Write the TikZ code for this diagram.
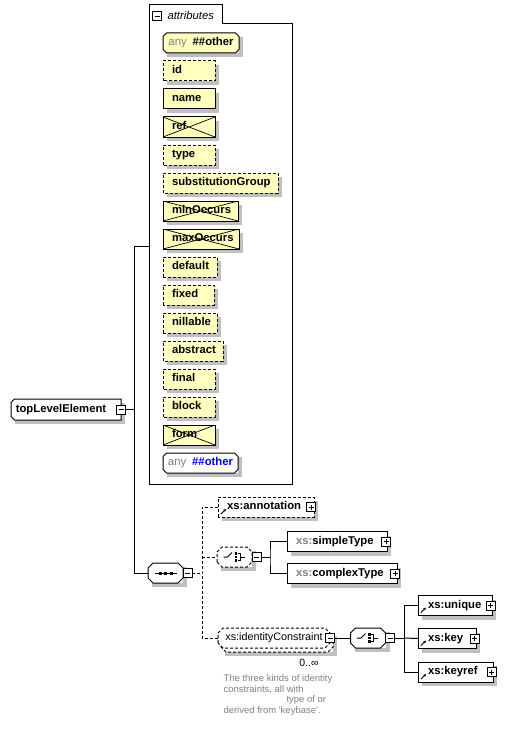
\documentclass[tikz,border=0pt]{standalone}
\usepackage{fontspec}
\setmainfont{Liberation Sans}
\usetikzlibrary{positioning}
\usetikzlibrary{calc}
\usetikzlibrary{arrows.meta}
\usetikzlibrary{backgrounds}

\definecolor{attrfill}{RGB}{255,255,192}
\definecolor{xsgray}{RGB}{128,128,128}
\definecolor{anyblue}{RGB}{0,0,255}
\definecolor{shadowgray}{RGB}{192,192,192}
\newcommand{\dfont}{\fontsize{11.3}{13.5}\selectfont}
\newcommand{\xs}{\textcolor{xsgray}{xs:}}

% box with cut corners
\makeatletter
\newdimen\cbxa \newdimen\cbya \newdimen\cbxb \newdimen\cbyb
\newdimen\cbcl \newdimen\cbcr
\pgfkeys{/pgf/chamf left/.initial=0pt,/pgf/chamf right/.initial=0pt}
\def\cbcorners{%
  \southwest \global\cbxa=\pgf@x \global\cbya=\pgf@y
  \northeast \global\cbxb=\pgf@x \global\cbyb=\pgf@y
  \pgfmathsetlength\cbcl{\pgfkeysvalueof{/pgf/chamf left}}%
  \pgfmathsetlength\cbcr{\pgfkeysvalueof{/pgf/chamf right}}}
\def\cbpath{%
  \pgfpathmoveto{\pgfqpoint{\cbxa}{\dimexpr\cbya+\cbcl\relax}}%
  \pgfpathlineto{\pgfqpoint{\cbxa}{\dimexpr\cbyb-\cbcl\relax}}%
  \pgfpathlineto{\pgfqpoint{\dimexpr\cbxa+\cbcl\relax}{\cbyb}}%
  \pgfpathlineto{\pgfqpoint{\dimexpr\cbxb-\cbcr\relax}{\cbyb}}%
  \pgfpathlineto{\pgfqpoint{\cbxb}{\dimexpr\cbyb-\cbcr\relax}}%
  \pgfpathlineto{\pgfqpoint{\cbxb}{\dimexpr\cbya+\cbcr\relax}}%
  \pgfpathlineto{\pgfqpoint{\dimexpr\cbxb-\cbcr\relax}{\cbya}}%
  \pgfpathlineto{\pgfqpoint{\dimexpr\cbxa+\cbcl\relax}{\cbya}}%
  \pgfpathclose}
\pgfdeclareshape{xbox}{%
  \inheritsavedanchors[from=rectangle]%
  \inheritanchorborder[from=rectangle]%
  \inheritanchor[from=rectangle]{center}%
  \inheritanchor[from=rectangle]{text}%
  \inheritanchor[from=rectangle]{north}%
  \inheritanchor[from=rectangle]{south}%
  \inheritanchor[from=rectangle]{east}%
  \inheritanchor[from=rectangle]{west}%
  \inheritanchor[from=rectangle]{north west}%
  \inheritanchor[from=rectangle]{north east}%
  \inheritanchor[from=rectangle]{south west}%
  \inheritanchor[from=rectangle]{south east}%
  \inheritanchor[from=rectangle]{base}%
  \inheritanchor[from=rectangle]{mid}%
  \backgroundpath{\cbcorners\cbpath}%
}
\makeatother

\begin{document}
\begin{tikzpicture}[x=1pt,y=-1pt,line width=1pt,
		box/.style={shape=xbox,draw,inner sep=0pt,outer sep=0pt,minimum height=20pt,text height=8pt,text depth=2.5pt,align=left,font=\dfont\bfseries},
		attr/.style={box,fill=attrfill,text width=#1}, attr/.default=52pt,
		elem/.style={box,fill=white,text width=#1},
		cham/.style={chamf left=#1,chamf right=#1}, cham/.default=3.5pt,
		comp/.style={shape=xbox,draw,fill=white,cham=5pt,minimum width=35pt,minimum height=20pt,inner sep=0pt,outer sep=0pt},
		opt/.style={dash pattern=on 3pt off 2pt},
		nxt/.style={below=8pt of #1.south west,anchor=north west},
		xed/.style={path picture={\draw[line width=.7pt] (path picture bounding box.north west) -- (path picture bounding box.south east) (path picture bounding box.south west) -- (path picture bounding box.north east);}},
		pmbox/.style={draw,fill=white,minimum size=9pt,inner sep=0pt,outer sep=0pt,line width=.8pt},
		pm/.style={pmbox,path picture={\draw[line width=.8pt] ([xshift=-2.5pt]path picture bounding box.center) -- ([xshift=2.5pt]path picture bounding box.center);}},
		pp/.style={pmbox,path picture={\draw[line width=.8pt] ([xshift=-2.5pt]path picture bounding box.center) -- ([xshift=2.5pt]path picture bounding box.center) ([yshift=-2.5pt]path picture bounding box.center) -- ([yshift=2.5pt]path picture bounding box.center);}},
		shline/.style={draw=shadowgray,line width=4pt,line join=miter,line cap=butt},
		refarr/.style={-{Stealth[length=3pt,width=3pt]},line width=1pt}]
		\useasboundingbox (0,0) rectangle (508,733);
		% attributes group
		\draw (149,484) |- (222,5) |- (292,24) -- (292,484) -- cycle;
		\node[pm] (attrm) at (157,16) {};
		\node[anchor=west,inner sep=0pt,font=\dfont\itshape] (attrlbl) at (167,15.5) {attributes};
		\coordinate (attrin) at (149,246);
		\node[box,cham,fill=attrfill,minimum width=76pt,anchor=west] (anyA) at (163,43) {\textcolor{xsgray}{\mdseries any}\hspace{6pt}\#\#other};
		\node[attr,opt,anchor=north west] (id) at (163,61) {\hspace*{9pt}id};
		\node[attr,nxt=id] (name) {\hspace*{9pt}name};
		\node[attr,xed,nxt=name] (ref) {\hspace*{9pt}ref};
		\node[attr,opt,nxt=ref] (type) {\hspace*{9pt}type};
		\node[attr=115pt,opt,nxt=type] (subst) {\hspace*{9pt}substitutionGroup};
		\node[attr=75pt,xed,nxt=subst] (minocc) {\hspace*{9pt}minOccurs};
		\node[attr=76pt,xed,nxt=minocc] (maxocc) {\hspace*{9pt}maxOccurs};
		\node[attr=54pt,opt,nxt=maxocc] (default) {\hspace*{9pt}default};
		\node[attr=51pt,opt,nxt=default] (fixed) {\hspace*{9pt}fixed};
		\node[attr=54pt,opt,nxt=fixed] (nillable) {\hspace*{9pt}nillable};
		\node[attr=60pt,opt,nxt=nillable] (abstract) {\hspace*{9pt}abstract};
		\node[attr,opt,nxt=abstract] (final) {\hspace*{9pt}final};
		\node[attr,opt,nxt=final] (block) {\hspace*{9pt}block};
		\node[attr,xed,nxt=block] (form) {\hspace*{9pt}form};
		\node[box,cham,fill=white,minimum width=75pt,anchor=west] (anyB) at (163,463) {\textcolor{xsgray}{\mdseries any}\hspace{6pt}\textcolor{anyblue}{\#\#other}};
		% the element
		\node[box,fill=white,chamf left=3.5pt,minimum width=110pt,minimum height=21pt,anchor=west] (tle) at (11,409.5) {topLevelElement\hspace*{10pt}};
		\node[pm] (tlem) at (tle.east) {};
		% sequence
		\node[comp] (seq) at (165.5,573) {};
		\node[pm,anchor=west] (seqm) at (seq.east) {};
		\draw (seq.center) ++(-11,0) -- ++(22,0);
		\fill ($(seq.center)+(-7,-1.5)$) rectangle ++(3,3);
		\fill ($(seq.center)+(-1.5,-1.5)$) rectangle ++(3,3);
		\fill ($(seq.center)+(4,-1.5)$) rectangle ++(3,3);
		\node[elem=96pt,opt,anchor=west] (ann) at (218,507) {\hspace*{9pt}xs:annotation};
		\node[pp] (annp) at ([xshift=-3pt]ann.east) {};
		\draw[refarr] ([shift={(3pt,3pt)}]ann.south west) -- ++(5,-5);
		% choice of types
		\node[comp,opt] (ch1) at (234.5,557) {};
		\node[pm,anchor=west] (ch1m) at (ch1.east) {};
		\draw (ch1.center) ++(-11,0) -- ++(4,0) -- ++(4.5,-4.5);
		\fill ($(ch1.center)+(.3,-4.7)$) rectangle ++(2.4,2.4);
		\fill ($(ch1.center)+(.3,-1.2)$) rectangle ++(2.4,2.4);
		\fill ($(ch1.center)+(.3,2.3)$) rectangle ++(2.4,2.4);
		\draw (ch1.center) ++(3,-3.5) -- ++(2.5,0) -- ++(0,7) -- ++(-2.5,0);
		\draw (ch1.center) ++(5.5,0) -- ++(4.5,0);
		\node[elem=100pt,anchor=west] (st) at (287,541.5) {\hspace*{9pt}\xs simpleType};
		\node[pp] (stp) at ([xshift=-1pt]st.east) {};
		\node[elem=110pt,below=12pt of st.south west,anchor=north west] (ct) {\hspace*{9pt}\xs complexType};
		\node[pp] (ctp) at ([xshift=-2pt]ct.east) {};
		% identity constraints
		\node[shape=xbox,draw,fill=white,opt,cham=5pt,minimum width=112pt,minimum height=20pt,inner sep=0pt,outer sep=0pt] (idcb) at (277,642) {};
		\node[shape=xbox,draw,fill=white,opt,cham=5pt,minimum width=112pt,minimum height=20pt,inner sep=0pt,outer sep=0pt,text height=8pt,text depth=2.5pt,font=\fontsize{10.8}{13}\selectfont] (idc) at (274,638) {xs:identityConstraint};
		\node[pm] (idcm) at (idc.east) {};
		\node[inner sep=0pt,font=\fontsize{10.5}{12}\selectfont] (occ) at (309,663) {0..∞};
		\node[inner sep=0pt,anchor=north west,align=left,text=xsgray,font=\fontsize{9.5}{10.7}\selectfont] (doc) at (223,674) {The three kinds of identity\\constraints, all with\\\hspace*{63pt}type of or\\derived from \textquotesingle keybase\textquotesingle.};
		\node[comp,right=16pt of idcm] (ch2) {};
		\node[pm,anchor=west] (ch2m) at (ch2.east) {};
		\draw (ch2.center) ++(-11,0) -- ++(4,0) -- ++(4.5,-4.5);
		\fill ($(ch2.center)+(.3,-4.7)$) rectangle ++(2.4,2.4);
		\fill ($(ch2.center)+(.3,-1.2)$) rectangle ++(2.4,2.4);
		\fill ($(ch2.center)+(.3,2.3)$) rectangle ++(2.4,2.4);
		\draw (ch2.center) ++(3,-3.5) -- ++(2.5,0) -- ++(0,7) -- ++(-2.5,0);
		\draw (ch2.center) ++(5.5,0) -- ++(4.5,0);
		\node[elem=74pt,anchor=west] (uq) at (418,605.5) {\hspace*{10pt}xs:unique};
		\node[pp] (uqp) at ([xshift=-1.5pt]uq.east) {};
		\draw[refarr] ([shift={(3pt,3pt)}]uq.south west) -- ++(5,-5);
		\node[elem=58pt,below=13pt of uq.south west,anchor=north west] (key) {\hspace*{10pt}xs:key};
		\node[pp] (keyp) at ([xshift=-1.5pt]key.east) {};
		\draw[refarr] ([shift={(3pt,3pt)}]key.south west) -- ++(5,-5);
		\node[elem=75pt,below=13.5pt of key.south west,anchor=north west] (kr) {\hspace*{10pt}xs:keyref};
		\node[pp] (krp) at ([xshift=-1.5pt]kr.east) {};
		\draw[refarr] ([shift={(3pt,3pt)}]kr.south west) -- ++(5,-5);
		% connectors
		\draw (tlem.east) -- ++(9,0) coordinate (tj);
		\draw (attrin) -| (tj) |- (seq.west);
		\draw[opt] (seqm.east) -- ++(10,0) coordinate (sj);
		\draw[opt] (ann.west) -| (sj) |- (idc.west);
		\draw[opt] (sj |- ch1.west) -- (ch1.west);
		\draw (ch1m.east) -- ++(9,0) coordinate (cj);
		\draw (st.west) -| (cj) |- (ct.west);
		\draw (idcm.east) -- (ch2.west);
		\draw (ch2m.east) -- ++(10,0) coordinate (kj);
		\draw (uq.west) -| (kj) |- (kr.west);
		\draw (kj) -- (key.west);
		% shadows
		\begin{scope}[on background layer]
			\foreach \n in {anyA,id,name,ref,type,subst,minocc,maxocc,default,fixed,nillable,abstract,final,block,form,anyB,tle,seq,ch1,ch2,idcb,ann,st,ct,uq,key,kr}
				\draw[shline] ([shift={(2pt,-4pt)}]\n.north east) -- ([shift={(2pt,-2pt)}]\n.south east) -- ([shift={(4pt,-2pt)}]\n.south west);
		\end{scope}
	\end{tikzpicture}
\end{document}
